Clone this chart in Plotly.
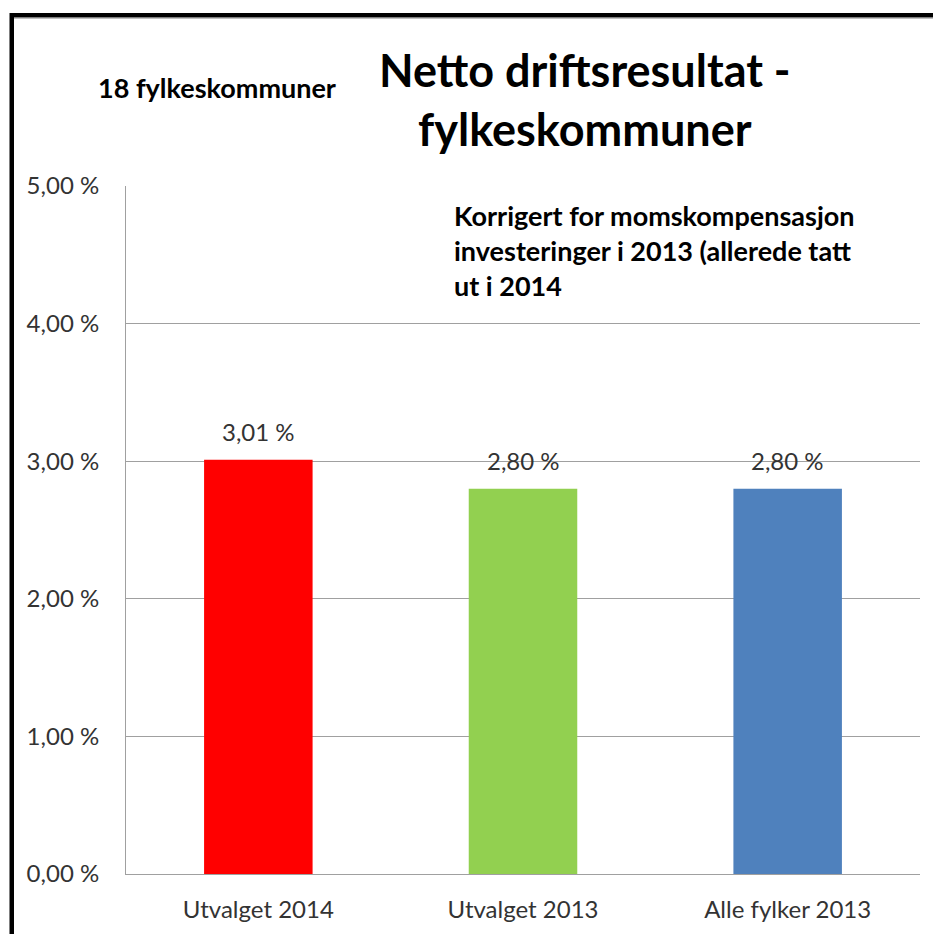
import plotly.graph_objects as go

categories = ["Utvalget 2014", "Utvalget 2013", "Alle fylker 2013"]
values = [3.01, 2.80, 2.80]
colors = ["#FF0000", "#92D050", "#4F81BD"]
tick_vals = [0, 1, 2, 3, 4, 5]
tick_text = ["0,00 %", "1,00 %", "2,00 %", "3,00 %", "4,00 %", "5,00 %"]

OFF = 8  # page body margin
W, H = 941 - OFF, 934 - OFF
L, R, T, B = 126 - OFF, 920 - OFF, 186 - OFF, 874 - OFF
FONT = "Lato"

def px(x):
    return (x - OFF - L) / (R - L)

def py(y):
    return (B - (y - OFF)) / (B - T)

fig = go.Figure()
fig.add_trace(go.Bar(x=categories, y=values, marker=dict(color=colors, line=dict(width=0)),
                     width=0.41, hoverinfo="skip"))

annotations = []
for c, v in zip(categories, values):
    annotations.append(dict(x=c, y=v, xref="x", yref="y", text=f"{v:.2f} %".replace(".", ","),
                            showarrow=False, yshift=28, xanchor="center", yanchor="middle",
                            font=dict(family=FONT, size=24, color="#333333")))

annotations.append(dict(x=px(585), y=py(99), xref="paper", yref="paper", xanchor="center", yanchor="middle",
                        text="<b>Netto driftsresultat -<br>fylkeskommuner</b>", showarrow=False,
                        font=dict(family=FONT, size=45, color="#000000"), align="center"))
annotations.append(dict(x=px(217), y=py(88), xref="paper", yref="paper", xanchor="center", yanchor="middle",
                        text="<b>18 fylkeskommuner</b>", showarrow=False,
                        font=dict(family=FONT, size=27, color="#000000")))
annotations.append(dict(x=px(452), y=py(250), xref="paper", yref="paper", xanchor="left", yanchor="middle",
                        text="<b>Korrigert for momskompensasjon<br>investeringer i 2013 (allerede tatt<br>ut i 2014</b>",
                        showarrow=False, align="left",
                        font=dict(family=FONT, size=27, color="#000000")))

shapes = [
    dict(type="rect", xref="paper", yref="paper", x0=px(10), x1=px(941), y0=py(13), y1=py(17.5),
         fillcolor="#000000", line=dict(width=0), layer="above"),
    dict(type="rect", xref="paper", yref="paper", x0=px(9.5), x1=px(14), y0=py(13), y1=py(934),
         fillcolor="#000000", line=dict(width=0), layer="above"),
    dict(type="line", xref="paper", yref="paper", x0=px(14), x1=px(941), y0=py(18.5), y1=py(18.5),
         line=dict(color="#C0C0C0", width=1), layer="above"),
]

fig.update_layout(
    width=W, height=H,
    margin=dict(l=L, r=W - R, t=T, b=H - B),
    paper_bgcolor="white", plot_bgcolor="white",
    showlegend=False,
    bargap=0.59,
    annotations=annotations,
    shapes=shapes,
    font=dict(family=FONT, size=24, color="#333333"),
    xaxis=dict(showgrid=False, showline=True, linecolor="#A0A0A0", linewidth=1, automargin=False,
               ticks="", tickfont=dict(family=FONT, size=24, color="#333333"), ticklabelstandoff=14),
    yaxis=dict(range=[0, 5], tickvals=tick_vals, ticktext=tick_text, showgrid=True, automargin=False,
               gridcolor="#A0A0A0", gridwidth=1, showline=True, linecolor="#A0A0A0", linewidth=1,
               zeroline=False, ticks="", ticklabelstandoff=21,
               tickfont=dict(family=FONT, size=24, color="#333333")),
)

fig.write_html("out.html")
